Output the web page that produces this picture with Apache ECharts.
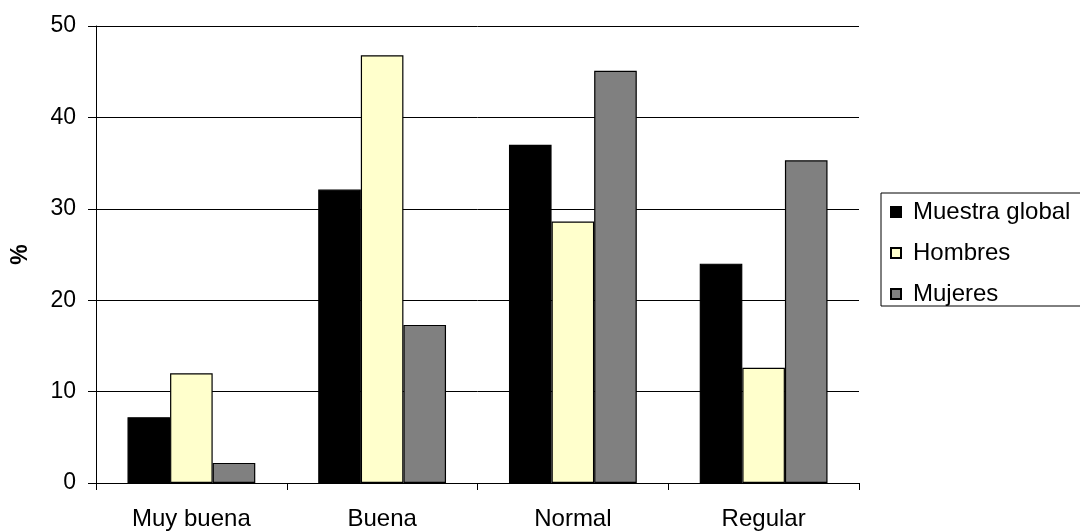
<!DOCTYPE html>
<html>
<head>
<meta charset="utf-8">
<script src="https://cdn.jsdelivr.net/npm/echarts@6/dist/echarts.min.js"></script>
<style>html,body{margin:0;padding:0;background:#fff}#c{width:1080px;height:532px}</style>
</head>
<body>
<div id="c"></div>
<script>
const categories = ['Muy buena', 'Buena', 'Normal', 'Regular'];
const muestraGlobal = [7.2, 32.1, 37.0, 24.0];
const hombres = [12.0, 46.8, 28.6, 12.6];
const mujeres = [2.2, 17.3, 45.1, 35.3];
const seriesNames = ['Muestra global', 'Hombres', 'Mujeres'];
const yAxisName = '%';

const FONT = 'Liberation Sans';
const chart = echarts.init(document.getElementById('c'), null, {renderer: 'canvas'});
const barStyle = c => ({color: c, borderColor: '#000', borderWidth: 1.2});
chart.setOption({
  animation: false,
  backgroundColor: '#fff',
  textStyle: {fontFamily: FONT},
  grid: {left: 96, right: 221, top: 26, bottom: 49},
  legend: {
    orient: 'vertical',
    left: 881, top: 193,
    padding: [7, 30, 0, 9],
    itemWidth: 10, itemHeight: 10, itemGap: 17,
    borderColor: '#000', borderWidth: 1,
    icon: 'rect',
    textStyle: {fontFamily: FONT, fontSize: 24, color: '#000', padding: [0, 0, 0, 7]},
    data: seriesNames
  },
  xAxis: {
    type: 'category',
    data: categories,
    axisLine: {lineStyle: {color: '#000', width: 1}},
    axisTick: {show: true, length: 7, lineStyle: {color: '#000'}},
    axisLabel: {fontFamily: FONT, fontSize: 24, color: '#000', margin: 24}
  },
  yAxis: {
    type: 'value', min: 0, max: 50, interval: 10,
    name: yAxisName, nameLocation: 'middle', nameGap: 64, nameRotate: 90,
    nameTextStyle: {fontFamily: FONT, fontSize: 23, fontWeight: 'bold', color: '#000'},
    axisLine: {show: true, lineStyle: {color: '#000', width: 1}},
    axisTick: {show: true, length: 8, lineStyle: {color: '#000'}},
    axisLabel: {fontFamily: FONT, fontSize: 23, color: '#000', margin: 20},
    splitLine: {lineStyle: {color: '#000', width: 1}}
  },
  series: [
    {name: seriesNames[0], type: 'bar', data: muestraGlobal, itemStyle: barStyle('#000000'), barGap: '0%', barCategoryGap: '33%'},
    {name: seriesNames[1], type: 'bar', data: hombres, itemStyle: barStyle('#FFFFCC'), barGap: '0%', barCategoryGap: '33%'},
    {name: seriesNames[2], type: 'bar', data: mujeres, itemStyle: barStyle('#808080'), barGap: '0%', barCategoryGap: '33%'}
  ]
});
</script>
</body>
</html>
